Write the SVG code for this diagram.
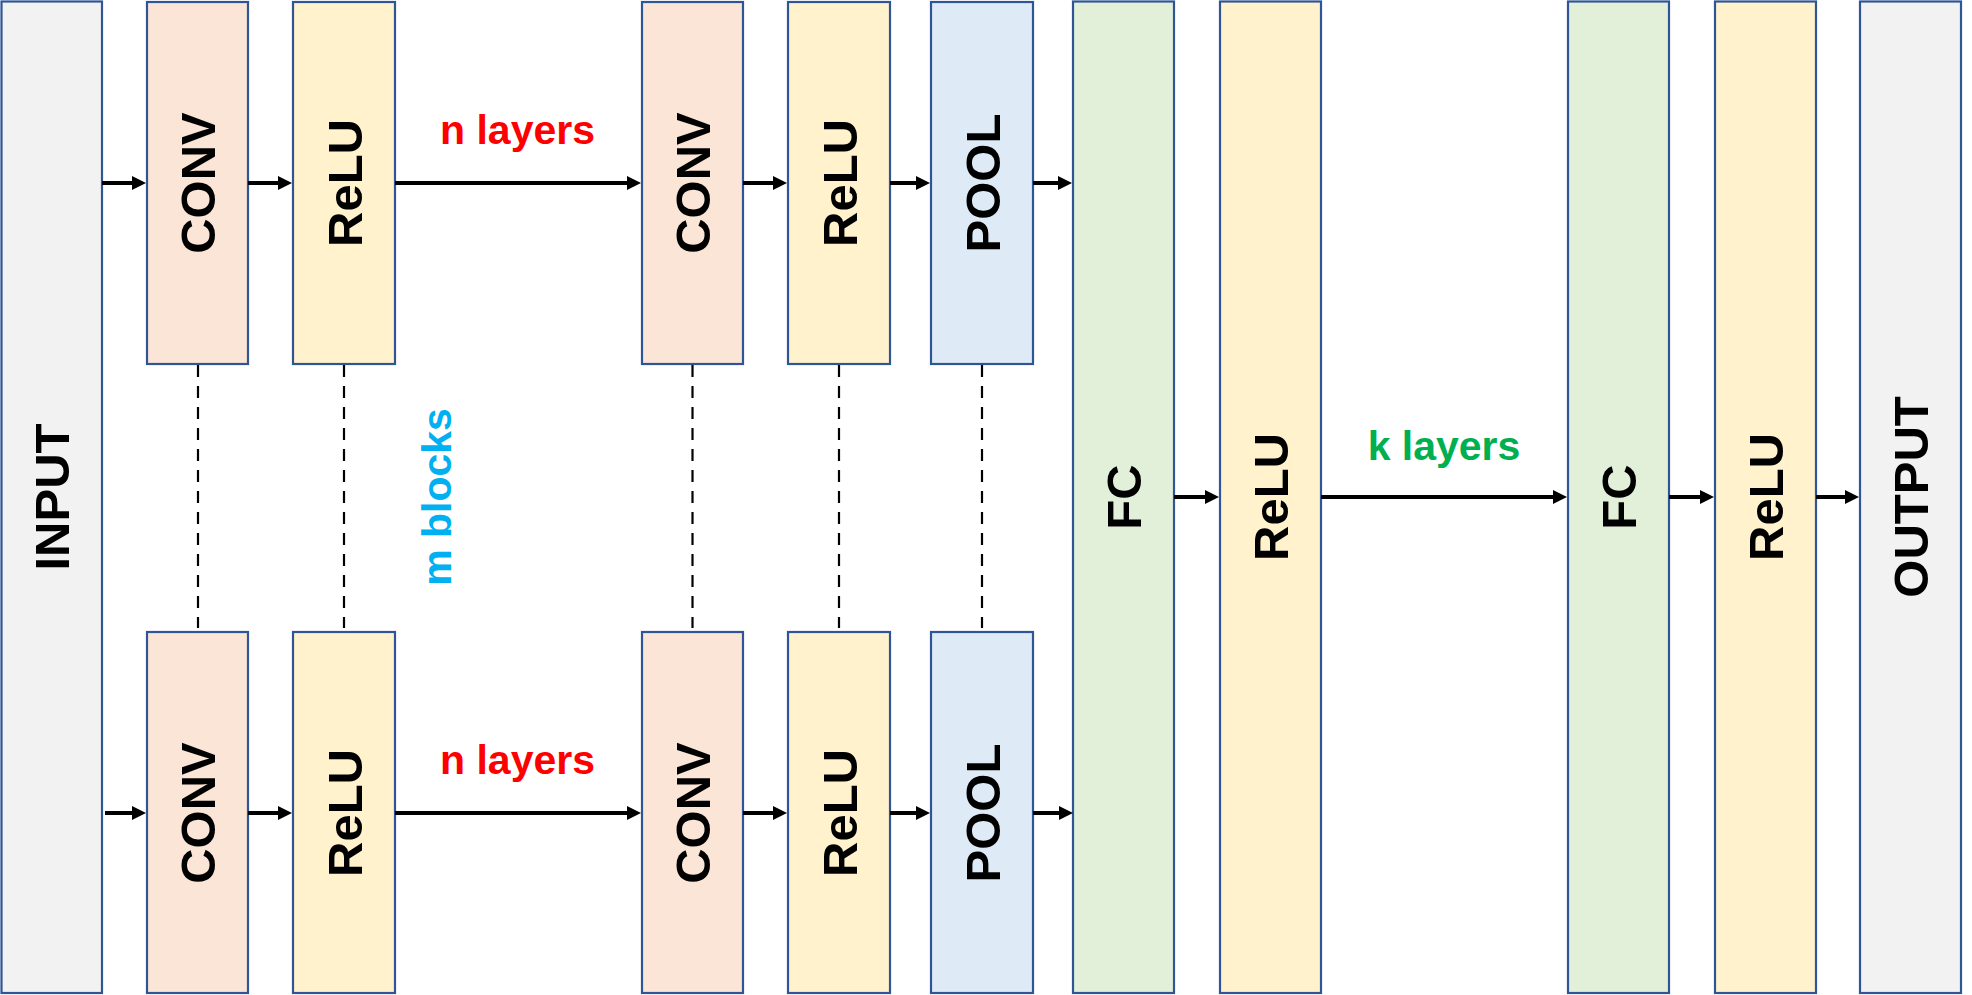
<svg xmlns="http://www.w3.org/2000/svg" width="1972" height="995" viewBox="0 0 1972 995">
<style>
.box{stroke:#2F5597;stroke-width:2.2}
.in{fill:#F2F2F2}.conv{fill:#FBE5D6}.relu{fill:#FFF2CC}.pool{fill:#DEEBF7}.fc{fill:#E2F0D9}
.lbl{font-family:"Liberation Sans",Arial,sans-serif;font-weight:bold;font-size:49px;fill:#000;text-anchor:middle}
.note{font-family:"Liberation Sans",Arial,sans-serif;font-weight:bold;font-size:41px;text-anchor:middle}
.arr{stroke:#000;stroke-width:4;fill:none;marker-end:url(#ah)}
.dash{stroke:#000;stroke-width:2.2;stroke-dasharray:12 9;fill:none}
</style>
<defs>
<marker id="ah" markerUnits="userSpaceOnUse" markerWidth="15" markerHeight="15" refX="1" refY="7" orient="auto">
<path d="M0,0 L14,7 L0,14 z" fill="#000"/>
</marker>
</defs>

<g id="input"><rect class="box in" x="1.5" y="1.5" width="100.5" height="991.5"/><text class="lbl" transform="translate(51.5,497) rotate(-90)" y="17.5">INPUT</text></g>

<g id="conv1a"><rect class="box conv" x="147" y="2" width="101" height="362"/><text class="lbl" transform="translate(197.5,183) rotate(-90)" y="17.5">CONV</text></g>
<g id="relu1a"><rect class="box relu" x="293" y="2" width="102" height="362"/><text class="lbl" transform="translate(344,183) rotate(-90)" y="17.5">ReLU</text></g>
<g id="conv2a"><rect class="box conv" x="642" y="2" width="101" height="362"/><text class="lbl" transform="translate(692.5,183) rotate(-90)" y="17.5">CONV</text></g>
<g id="relu2a"><rect class="box relu" x="788" y="2" width="102" height="362"/><text class="lbl" transform="translate(839,183) rotate(-90)" y="17.5">ReLU</text></g>
<g id="poola"><rect class="box pool" x="931" y="2" width="102" height="362"/><text class="lbl" transform="translate(982,183) rotate(-90)" y="17.5">POOL</text></g>

<g id="conv1b"><rect class="box conv" x="147" y="632" width="101" height="361"/><text class="lbl" transform="translate(197.5,813) rotate(-90)" y="17.5">CONV</text></g>
<g id="relu1b"><rect class="box relu" x="293" y="632" width="102" height="361"/><text class="lbl" transform="translate(344,813) rotate(-90)" y="17.5">ReLU</text></g>
<g id="conv2b"><rect class="box conv" x="642" y="632" width="101" height="361"/><text class="lbl" transform="translate(692.5,813) rotate(-90)" y="17.5">CONV</text></g>
<g id="relu2b"><rect class="box relu" x="788" y="632" width="102" height="361"/><text class="lbl" transform="translate(839,813) rotate(-90)" y="17.5">ReLU</text></g>
<g id="poolb"><rect class="box pool" x="931" y="632" width="102" height="361"/><text class="lbl" transform="translate(982,813) rotate(-90)" y="17.5">POOL</text></g>

<g id="fc1"><rect class="box fc" x="1073" y="1.5" width="101" height="991.5"/><text class="lbl" transform="translate(1123.5,497) rotate(-90)" y="17.5">FC</text></g>
<g id="relu3"><rect class="box relu" x="1220" y="1.5" width="101" height="991.5"/><text class="lbl" transform="translate(1270.5,497) rotate(-90)" y="17.5">ReLU</text></g>
<g id="fc2"><rect class="box fc" x="1568" y="1.5" width="101" height="991.5"/><text class="lbl" transform="translate(1618.5,497) rotate(-90)" y="17.5">FC</text></g>
<g id="relu4"><rect class="box relu" x="1715" y="1.5" width="101" height="991.5"/><text class="lbl" transform="translate(1765.5,497) rotate(-90)" y="17.5">ReLU</text></g>
<g id="output"><rect class="box in" x="1860" y="1.5" width="101" height="991.5"/><text class="lbl" transform="translate(1910.5,497) rotate(-90)" y="17.5">OUTPUT</text></g>

<g id="labels">
<text class="note" x="517.5" y="144" fill="#FF0000">n layers</text>
<text class="note" x="517.5" y="774" fill="#FF0000">n layers</text>
<text class="note" x="1444" y="460" fill="#00B050">k layers</text>
<text class="note" transform="translate(451,497) rotate(-90)" fill="#00B0F0">m blocks</text>
</g>

<g id="connectors">
<path class="arr" d="M102,183 H133"/>
<path class="arr" d="M248,183 H279"/>
<path class="arr" d="M395,183 H628"/>
<path class="arr" d="M743,183 H774"/>
<path class="arr" d="M890,183 H917"/>
<path class="arr" d="M1033,183 H1059"/>
<path class="arr" d="M105,813 H133"/>
<path class="arr" d="M248,813 H279"/>
<path class="arr" d="M395,813 H628"/>
<path class="arr" d="M743,813 H774"/>
<path class="arr" d="M890,813 H917"/>
<path class="arr" d="M1033,813 H1060"/>
<path class="arr" d="M1174,497 H1206"/>
<path class="arr" d="M1321,497 H1554"/>
<path class="arr" d="M1669,497 H1701"/>
<path class="arr" d="M1816,497 H1846"/>
<path class="dash" d="M198,365 V628"/>
<path class="dash" d="M344,365 V628"/>
<path class="dash" d="M692.5,365 V628"/>
<path class="dash" d="M839,365 V628"/>
<path class="dash" d="M982,365 V628"/>
</g>
</svg>
